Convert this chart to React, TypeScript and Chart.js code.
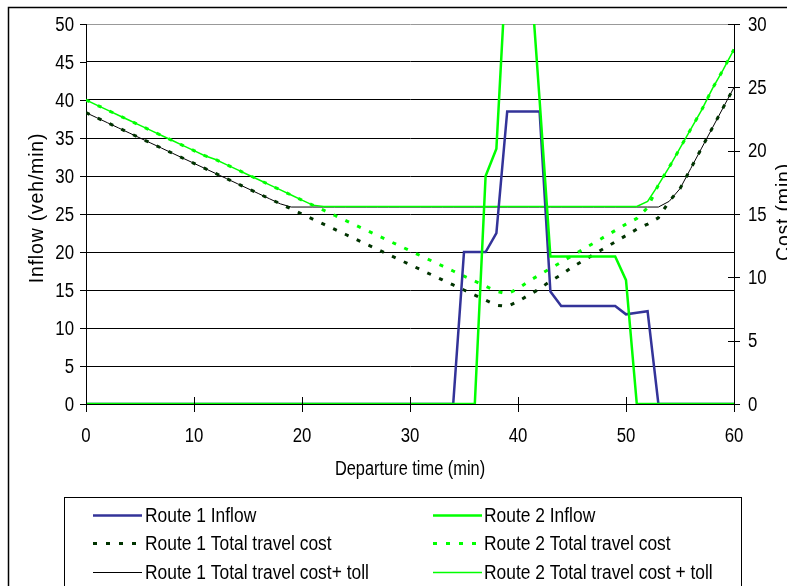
import React, { useEffect, useRef } from 'react';
import { Chart, registerables } from 'chart.js';

Chart.register(...registerables);

// Departure time (min)
const times = [
  0, 1, 2, 3, 4, 5, 6, 7, 8, 9, 10, 11, 12, 13, 14, 15, 16, 17, 18, 19, 20,
  21, 22, 23, 24, 25, 26, 27, 28, 29, 30, 31, 32, 33, 34, 35, 36, 37, 38, 39, 40,
  41, 42, 43, 44, 45, 46, 47, 48, 49, 50, 51, 52, 53, 54, 55, 56, 57, 58, 59, 60,
];

// Inflow (veh/min), left axis
const route1Inflow = [
  0, 0, 0, 0, 0, 0, 0, 0, 0, 0, 0, 0, 0, 0, 0, 0, 0, 0, 0, 0, 0,
  0, 0, 0, 0, 0, 0, 0, 0, 0, 0, 0, 0, 0, 0, 20, 20, 20, 22.5, 38.5, 38.5,
  38.5, 38.5, 14.8, 12.9, 12.9, 12.9, 12.9, 12.9, 12.9, 11.8, 12.0, 12.2, 0, 0, 0, 0, 0, 0, 0, 0,
];
const route2Inflow = [
  0, 0, 0, 0, 0, 0, 0, 0, 0, 0, 0, 0, 0, 0, 0, 0, 0, 0, 0, 0, 0,
  0, 0, 0, 0, 0, 0, 0, 0, 0, 0, 0, 0, 0, 0, 0, 0, 30, 33.6, 60, 60,
  60, 40, 19.4, 19.4, 19.4, 19.4, 19.4, 19.4, 19.4, 16.3, 0, 0, 0, 0, 0, 0, 0, 0, 0, 0,
];

// Cost (min), right axis
const route1Cost = [
  23.0, 22.6, 22.2, 21.8, 21.4, 21.0, 20.6, 20.2, 19.8, 19.4, 19.0,
  18.6, 18.2, 17.8, 17.4, 17.0, 16.6, 16.2, 15.8, 15.4, 15.0,
  14.6, 14.2, 13.8, 13.4, 13.0, 12.6, 12.2, 11.8, 11.4, 11.0,
  10.6, 10.2, 9.8, 9.4, 9.0, 8.6, 8.2, 7.8, 7.7, 8.1,
  8.6, 9.1, 9.7, 10.2, 10.8, 11.3, 11.8, 12.3, 12.8, 13.3,
  13.8, 14.2, 14.7, 16.0, 17.0, 18.6, 20.2, 21.8, 23.4, 25.0,
];
const route1CostToll = [
  23.0, 22.6, 22.2, 21.8, 21.4, 21.0, 20.6, 20.2, 19.8, 19.4, 19.0,
  18.6, 18.2, 17.8, 17.4, 17.0, 16.6, 16.2, 15.8, 15.55, 15.55,
  15.55, 15.55, 15.55, 15.55, 15.55, 15.55, 15.55, 15.55, 15.55, 15.55,
  15.55, 15.55, 15.55, 15.55, 15.55, 15.55, 15.55, 15.55, 15.55, 15.55,
  15.55, 15.55, 15.55, 15.55, 15.55, 15.55, 15.55, 15.55, 15.55, 15.55,
  15.55, 15.55, 15.55, 16.0, 17.0, 18.6, 20.2, 21.8, 23.4, 25.0,
];
const route2Cost = [
  24.0, 23.6, 23.2, 22.8, 22.4, 22.0, 21.6, 21.2, 20.8, 20.4, 20.0,
  19.6, 19.3, 18.9, 18.5, 18.1, 17.7, 17.3, 16.9, 16.5, 16.1,
  15.7, 15.3, 14.9, 14.5, 14.1, 13.7, 13.3, 12.9, 12.5, 12.1,
  11.7, 11.3, 10.9, 10.5, 10.1, 9.7, 9.3, 8.9, 8.7, 9.1,
  9.7, 10.2, 10.7, 11.2, 11.7, 12.2, 12.7, 13.2, 13.7, 14.2,
  14.65, 15.5, 17.3, 18.7, 20.2, 21.7, 23.2, 24.9, 26.4, 28.0,
];
const route2CostToll = [
  24.0, 23.6, 23.2, 22.8, 22.4, 22.0, 21.6, 21.2, 20.8, 20.4, 20.0,
  19.6, 19.3, 18.9, 18.5, 18.1, 17.7, 17.3, 16.9, 16.5, 16.1,
  15.7, 15.6, 15.6, 15.6, 15.6, 15.6, 15.6, 15.6, 15.6, 15.6,
  15.6, 15.6, 15.6, 15.6, 15.6, 15.6, 15.6, 15.6, 15.6, 15.6,
  15.6, 15.6, 15.6, 15.6, 15.6, 15.6, 15.6, 15.6, 15.6, 15.6,
  15.6, 16.0, 17.3, 18.7, 20.2, 21.7, 23.2, 24.9, 26.4, 28.0,
];

const seriesLabels = [
  'Route 1 Inflow',
  'Route 2 Inflow',
  'Route 1 Total travel cost',
  'Route 2 Total travel cost',
  'Route 1 Total travel cost+ toll',
  'Route 2 Total travel cost + toll',
];

const xTitle = 'Departure time (min)';
const yLeftTitle = 'Inflow (veh/min)';
const yRightTitle = 'Cost (min)';

const FONT = '"Liberation Sans", Arial, Helvetica, sans-serif';

type TextOpts = {
  size: number;
  sx?: number;
  sy?: number;
  align?: CanvasTextAlign;
  rotate?: number;
  spacing?: number;
};

function drawText(ctx: CanvasRenderingContext2D, text: string, x: number, y: number, o: TextOpts) {
  ctx.save();
  ctx.translate(x, y);
  if (o.rotate) ctx.rotate(o.rotate);
  ctx.scale(o.sx ?? 1, o.sy ?? 1);
  ctx.font = `${o.size}px ${FONT}`;
  ctx.textAlign = o.align ?? 'center';
  ctx.textBaseline = 'middle';
  ctx.fillStyle = '#000';
  if (o.spacing) (ctx as any).letterSpacing = `${o.spacing}px`;
  ctx.fillText(text, 0, 0);
  ctx.restore();
}

const decorPlugin = {
  id: 'decor',
  beforeDraw(chart: any) {
    const ctx: CanvasRenderingContext2D = chart.ctx;
    ctx.save();
    ctx.fillStyle = '#fff';
    ctx.fillRect(0, 0, chart.width, chart.height);
    ctx.restore();
  },
  afterDraw(chart: any) {
    const ctx: CanvasRenderingContext2D = chart.ctx;
    const { left, right, bottom } = chart.chartArea;
    const xs = chart.scales.x;
    const yl = chart.scales.y;
    const yr = chart.scales.y1;

    ctx.save();
    // outer chart frame
    ctx.strokeStyle = '#000';
    ctx.lineWidth = 1.5;
    ctx.beginPath();
    ctx.moveTo(8.5, chart.height + 2);
    ctx.lineTo(8.5, 7.5);
    ctx.lineTo(chart.width + 2, 7.5);
    ctx.stroke();

    // tick marks
    ctx.lineWidth = 1;
    ctx.strokeStyle = '#000';
    ctx.beginPath();
    xs.ticks.forEach((t: any) => {
      const px = Math.round(xs.getPixelForValue(t.value)) + 0.5;
      ctx.moveTo(px, bottom - 7);
      ctx.lineTo(px, bottom + 8);
    });
    yl.ticks.forEach((t: any) => {
      const py = Math.round(yl.getPixelForValue(t.value)) + 0.5;
      ctx.moveTo(left - 6, py);
      ctx.lineTo(left, py);
    });
    yr.ticks.forEach((t: any) => {
      const py = Math.round(yr.getPixelForValue(t.value)) + 0.5;
      ctx.moveTo(right - 6, py);
      ctx.lineTo(right + 6, py);
    });
    ctx.stroke();
    ctx.restore();

    // tick labels
    xs.ticks.forEach((t: any) => {
      drawText(ctx, String(t.value), xs.getPixelForValue(t.value), 436, { size: 20, sx: 0.84 });
    });
    yl.ticks.forEach((t: any) => {
      drawText(ctx, String(t.value), 74, yl.getPixelForValue(t.value) + 1, { size: 20, sx: 0.84, align: 'right' });
    });
    yr.ticks.forEach((t: any) => {
      drawText(ctx, String(t.value), 748, yr.getPixelForValue(t.value) + 1, { size: 20, sx: 0.84, align: 'left' });
    });

    // axis titles
    drawText(ctx, xTitle, (left + right) / 2, 470, { size: 19.5, sx: 0.84 });
    drawText(ctx, yLeftTitle, 38, 208, { size: 19.5, rotate: -Math.PI / 2, spacing: 0.8 });
    drawText(ctx, yRightTitle, 785, 212, { size: 19.5, rotate: -Math.PI / 2, spacing: 0.8 });

    // legend box
    ctx.save();
    ctx.strokeStyle = '#000';
    ctx.lineWidth = 1;
    ctx.strokeRect(64.5, 497.5, 677, 120);
    const rows = [515, 543, 572];
    const cols = [
      { x0: 93, x1: 142, tx: 145 },
      { x0: 433, x1: 482, tx: 484 },
    ];
    chart.data.datasets.forEach((ds: any, i: number) => {
      const c = cols[i % 2];
      const y = rows[Math.floor(i / 2)];
      ctx.save();
      ctx.strokeStyle = ds.borderColor;
      ctx.lineWidth = ds.borderWidth;
      ctx.setLineDash(ds.borderDash || []);
      ctx.beginPath();
      ctx.moveTo(c.x0, y + 0.5);
      ctx.lineTo(c.x1, y + 0.5);
      ctx.stroke();
      ctx.restore();
      drawText(ctx, ds.label, c.tx, y + 1, { size: 20, sx: 0.87, align: 'left' });
    });
    ctx.restore();
  },
};

function toPoints(values: number[]) {
  return times.map((t, i) => ({ x: t, y: values[i] }));
}

export default function App() {
  const canvasRef = useRef<HTMLCanvasElement | null>(null);

  useEffect(() => {
    if (!canvasRef.current) return;
    const common = { pointRadius: 0, tension: 0, fill: false };
    const chart = new Chart(canvasRef.current, {
      type: 'line',
      data: {
        datasets: [
          { ...common, label: seriesLabels[0], data: toPoints(route1Inflow), yAxisID: 'y', borderColor: '#333399', borderWidth: 2.5, order: 1 },
          { ...common, label: seriesLabels[1], data: toPoints(route2Inflow), yAxisID: 'y', borderColor: '#00ff00', borderWidth: 2.5, order: 0 },
          { ...common, label: seriesLabels[2], data: toPoints(route1Cost), yAxisID: 'y1', borderColor: '#003300', borderWidth: 3, borderDash: [4, 9], order: 3 },
          { ...common, label: seriesLabels[3], data: toPoints(route2Cost), yAxisID: 'y1', borderColor: '#00ff00', borderWidth: 3, borderDash: [4, 9], order: 2 },
          { ...common, label: seriesLabels[4], data: toPoints(route1CostToll), yAxisID: 'y1', borderColor: '#000000', borderWidth: 1, order: 5 },
          { ...common, label: seriesLabels[5], data: toPoints(route2CostToll), yAxisID: 'y1', borderColor: '#00ff00', borderWidth: 1.5, order: 4 },
        ] as any,
      },
      options: {
        animation: false,
        responsive: false,
        devicePixelRatio: 1,
        layout: { padding: { top: 24, left: 0, right: 0, bottom: 0 } },
        plugins: { legend: { display: false }, tooltip: { enabled: false } },
        scales: {
          x: {
            type: 'linear',
            min: 0,
            max: 60,
            ticks: { stepSize: 10, display: false },
            grid: { display: false, drawTicks: false },
            border: { display: true, color: '#000', width: 1 },
            afterFit: (s: any) => { s.height = 182; },
          },
          y: {
            position: 'left',
            min: 0,
            max: 50,
            ticks: { stepSize: 5, display: false },
            grid: {
              drawTicks: false,
              lineWidth: 1,
              color: (c: any) => (c.tick && c.tick.value === 50 ? '#999999' : '#000000'),
            },
            border: { display: true, color: '#000', width: 1 },
            afterFit: (s: any) => { s.width = 86; },
          },
          y1: {
            position: 'right',
            min: 0,
            max: 30,
            ticks: { stepSize: 5, display: false },
            grid: { display: false, drawTicks: false },
            border: { display: true, color: '#000', width: 1 },
            afterFit: (s: any) => { s.width = 53; },
          },
        },
      } as any,
      plugins: [decorPlugin],
    });
    return () => chart.destroy();
  }, []);

  return (
    <div style={{ position: 'absolute', left: 0, top: 0, width: 787, height: 586 }}>
      <canvas ref={canvasRef} width={787} height={586} style={{ display: 'block' }} />
    </div>
  );
}
